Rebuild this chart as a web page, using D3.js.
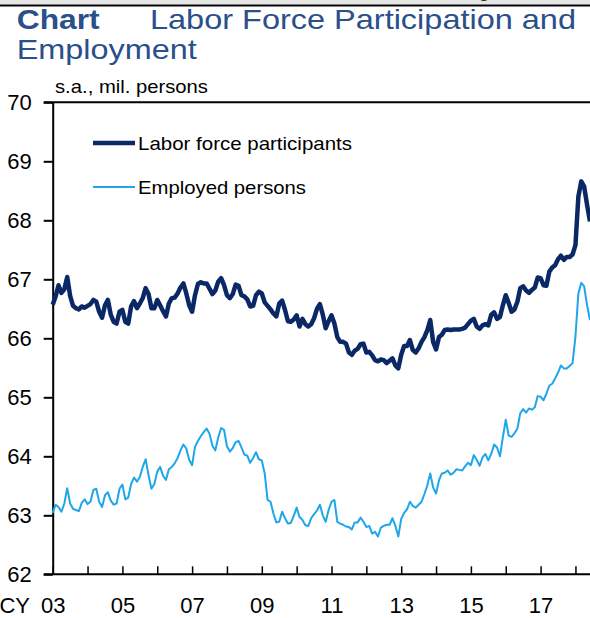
<!DOCTYPE html>
<html>
<head>
<meta charset="utf-8">
<script src="https://d3js.org/d3.v7.min.js"></script>
<style>
    body { margin: 0; background: #fff; }
    text { font-family: "Liberation Sans", Arial, sans-serif; }
</style>
</head>
<body>
<div id="my_chart"></div>
<script>
// monthly data, Jan 2003 .. Jun 2018 (s.a., mil. persons)
var startYear = 2003;
var yTicks = [62, 63, 64, 65, 66, 67, 68, 69, 70];
var xTickYears = d3.range(2003, 2019);
var seriesNames = ["Labor force participants", "Employed persons"];

var laborForce = [
    66.57, 66.71, 66.90, 66.77, 66.83, 67.04, 66.72, 66.55, 66.51, 66.49, 66.54, 66.52,
    66.55, 66.58, 66.65, 66.62, 66.45, 66.35, 66.56, 66.65, 66.40, 66.28, 66.25, 66.45,
    66.48, 66.28, 66.25, 66.54, 66.63, 66.51, 66.59, 66.68, 66.85, 66.75, 66.51, 66.51,
    66.65, 66.56, 66.46, 66.37, 66.59, 66.68, 66.69, 66.76, 66.86, 66.93, 66.76, 66.56,
    66.45, 66.73, 66.92, 66.95, 66.93, 66.93, 66.84, 66.75, 66.81, 66.96, 67.02, 66.90,
    66.73, 66.68, 66.75, 66.91, 66.89, 66.73, 66.71, 66.66, 66.54, 66.55, 66.73, 66.79,
    66.76, 66.61, 66.55, 66.49, 66.42, 66.37, 66.59, 66.64, 66.48, 66.29, 66.28, 66.32,
    66.39, 66.20, 66.33, 66.24, 66.20, 66.24, 66.34, 66.50, 66.58, 66.40, 66.17, 66.29,
    66.39, 66.25, 66.02, 65.94, 65.94, 65.91, 65.76, 65.72, 65.79, 65.82, 65.90, 65.91,
    65.76, 65.77, 65.71, 65.63, 65.61, 65.64, 65.63, 65.58, 65.62, 65.66, 65.54, 65.49,
    65.72, 65.87, 65.87, 65.97, 65.80, 65.76, 65.83, 65.94, 66.02, 66.14, 66.31, 65.94,
    65.81, 66.02, 66.06, 66.14, 66.15, 66.14, 66.15, 66.15, 66.15, 66.16, 66.18, 66.24,
    66.30, 66.33, 66.20, 66.16, 66.22, 66.24, 66.22, 66.40, 66.44, 66.33, 66.36, 66.56,
    66.73, 66.60, 66.45, 66.49, 66.62, 66.85, 66.88, 66.81, 66.77, 66.82, 66.86, 67.03,
    67.02, 66.90, 66.89, 67.13, 67.20, 67.24, 67.34, 67.40, 67.33, 67.38, 67.38, 67.42,
    67.58, 68.40, 68.66, 68.57, 68.26, 67.98
];

var employed = [
    63.04, 63.18, 63.14, 63.06, 63.20, 63.46, 63.20, 63.11, 63.09, 63.07, 63.21, 63.27,
    63.19, 63.23, 63.43, 63.45, 63.23, 63.14, 63.34, 63.39, 63.25, 63.18, 63.20, 63.45,
    63.52, 63.27, 63.30, 63.53, 63.64, 63.57, 63.65, 63.82, 63.95, 63.68, 63.45, 63.53,
    63.74, 63.82, 63.67, 63.60, 63.78, 63.82, 63.88, 63.97, 64.10, 64.20, 64.13, 63.94,
    63.85, 64.16, 64.26, 64.34, 64.41, 64.47, 64.38, 64.18, 64.10, 64.32, 64.48, 64.45,
    64.17, 64.08, 64.14, 64.24, 64.26, 64.15, 64.03, 64.01, 63.89, 63.97, 64.07, 63.95,
    63.93, 63.71, 63.26, 63.23, 63.03, 62.88, 62.89, 63.06, 62.95, 62.86, 62.87, 62.99,
    63.13, 62.97, 62.92, 62.83, 62.82, 62.95, 63.02, 63.08, 63.18, 63.00, 62.89, 63.09,
    63.23, 63.26, 62.89, 62.86, 62.84, 62.81, 62.80, 62.76, 62.88, 62.88, 62.96, 62.89,
    62.80, 62.82, 62.69, 62.72, 62.64, 62.79, 62.82, 62.84, 62.84, 62.95, 62.82, 62.64,
    62.94, 63.04, 63.10, 63.23, 63.16, 63.13, 63.18, 63.23, 63.36, 63.51, 63.71, 63.47,
    63.37, 63.59, 63.71, 63.72, 63.76, 63.69, 63.72, 63.78, 63.77, 63.76, 63.83, 63.89,
    63.85, 64.02, 63.94, 63.84, 63.98, 64.04, 63.93, 64.04, 64.20, 64.15, 64.00, 64.32,
    64.62, 64.35, 64.33, 64.39, 64.47, 64.73, 64.80, 64.74, 64.81, 64.79, 64.83, 65.02,
    65.01, 64.95, 65.06, 65.20, 65.23, 65.32, 65.42, 65.54, 65.49, 65.49, 65.53, 65.58,
    66.03, 66.76, 66.94, 66.88, 66.56, 66.31
];

var laborColor = "#0b2866";
var employedColor = "#1fa6ea";
var titleColor = "#2a4f8a";

var width = 590, height = 618;
var plotLeft = 52.7, plotRight = 590, plotTop = 102.3, plotBottom = 574.3;

var svg = d3.select("#my_chart")
    .append("svg")
    .attr("width", width)
    .attr("height", height);

svg.append("rect").attr("width", width).attr("height", height).attr("fill", "#fff");

// strip of the previous page at the top
svg.append("rect").attr("x", 0).attr("y", 0).attr("width", width).attr("height", 4.5).attr("fill", "#e6e6e6");
svg.append("text").attr("x", 478).attr("y", -4).text("g")
    .style("font-size", "22px").attr("fill", "#222");
svg.append("line").attr("x1", 0).attr("x2", width).attr("y1", 5.5).attr("y2", 5.5)
    .attr("stroke", "#000").attr("stroke-width", 2);

// title
svg.append("text").attr("x", 16.7).attr("y", 29.3).text("Chart")
    .attr("textLength", 83).attr("lengthAdjust", "spacingAndGlyphs")
    .style("font-size", "28px").style("font-weight", "bold").attr("fill", titleColor);
svg.append("text").attr("x", 150).attr("y", 29.3).text("Labor Force Participation and")
    .attr("textLength", 426).attr("lengthAdjust", "spacingAndGlyphs")
    .style("font-size", "28px").attr("fill", titleColor);
svg.append("text").attr("x", 16.7).attr("y", 59.3).text("Employment")
    .attr("textLength", 180).attr("lengthAdjust", "spacingAndGlyphs")
    .style("font-size", "28px").attr("fill", titleColor);

svg.append("text").attr("x", 55).attr("y", 93.3).text("s.a., mil. persons")
    .attr("textLength", 153).attr("lengthAdjust", "spacingAndGlyphs")
    .style("font-size", "19px").attr("fill", "#000");

// scales
var xscale = d3.scaleLinear()
    .domain([2003, 2018])
    .range([plotLeft, plotLeft + 15 * 34.85]);
var yscale = d3.scaleLinear()
    .domain([62, 70])
    .range([plotBottom, plotTop]);

// top line at 70
svg.append("line")
    .attr("x1", plotLeft - 9).attr("x2", plotRight)
    .attr("y1", plotTop).attr("y2", plotTop)
    .attr("stroke", "#000").attr("stroke-width", 2);

// Y axis
var yAxis = svg.append("g")
    .attr("transform", "translate(" + plotLeft + ",0)")
    .call(d3.axisLeft(yscale).tickValues(yTicks).tickSize(9).tickSizeOuter(0).tickPadding(12)
        .tickFormat(d3.format("d")));
yAxis.select(".domain").attr("stroke-width", 2);
yAxis.selectAll(".tick line").attr("stroke-width", 2);
yAxis.selectAll("text").style("font-size", "22px").attr("fill", "#000");

// X axis
var xAxis = svg.append("g")
    .attr("transform", "translate(0," + plotBottom + ")")
    .call(d3.axisBottom(xscale).tickValues(xTickYears).tickSizeInner(-8).tickSizeOuter(0).tickPadding(23)
        .tickFormat(function(d) {
            return (d % 2 == 1) ? d3.format("02d")(d % 100) : "";
        }));
xAxis.select(".domain").attr("d", "M" + (plotLeft - 9) + ",0H" + plotRight).attr("stroke-width", 2);
xAxis.selectAll(".tick line").attr("stroke-width", 1.5);
xAxis.selectAll("text").style("font-size", "22px").attr("fill", "#000");

svg.append("text").attr("x", 30).attr("y", plotBottom + 23).attr("dy", "0.71em")
    .attr("text-anchor", "end").text("CY")
    .style("font-size", "22px").attr("fill", "#000");

// lines
var line = d3.line()
    .x(function(d, i) { return xscale(startYear + i / 12); })
    .y(function(d) { return yscale(d); });

svg.append("path")
    .datum(employed)
    .attr("d", line)
    .attr("fill", "none")
    .attr("stroke", employedColor)
    .attr("stroke-width", 2)
    .attr("stroke-linejoin", "round");

svg.append("path")
    .datum(laborForce)
    .attr("d", line)
    .attr("fill", "none")
    .attr("stroke", laborColor)
    .attr("stroke-width", 4.5)
    .attr("stroke-linejoin", "round");

// legend
var legend = [
    { name: seriesNames[0], color: laborColor, w: 4.5, y: 143, len: 214 },
    { name: seriesNames[1], color: employedColor, w: 2, y: 187, len: 168 }
];
legend.forEach(function(l) {
    svg.append("line")
        .attr("x1", 93).attr("x2", 135)
        .attr("y1", l.y).attr("y2", l.y)
        .attr("stroke", l.color).attr("stroke-width", l.w);
    svg.append("text")
        .attr("x", 138).attr("y", l.y + 7)
        .attr("textLength", l.len).attr("lengthAdjust", "spacingAndGlyphs")
        .text(l.name)
        .style("font-size", "19px").attr("fill", "#000");
});
</script>
</body>
</html>
